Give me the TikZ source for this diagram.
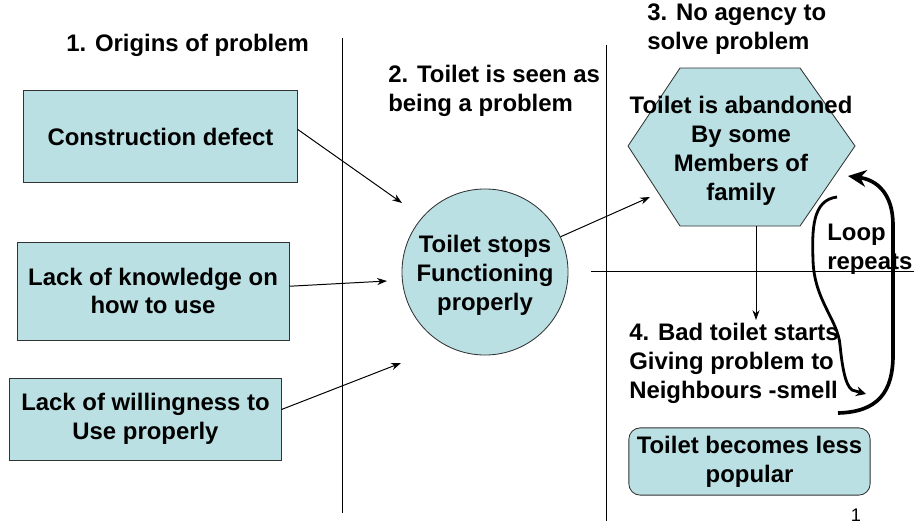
\documentclass[tikz,border=0pt]{standalone}
\usepackage{fontspec}
\setmainfont{Liberation Sans}
\usetikzlibrary{arrows.meta}
\definecolor{slidefill}{RGB}{187,224,227}

\begin{document}
\begin{tikzpicture}[x=0.025cm, y=-0.025cm,
                    every node/.style={font=\fontsize{17}{20.5}\selectfont\bfseries},
                    cause/.style={draw=black!80, fill=slidefill, line width=0.6pt, align=center, inner sep=0pt},
                    heading/.style={align=left, anchor=base west, inner sep=0pt},
                    link/.style={line width=0.7pt, -{Stealth[length=7pt, width=5pt]}},
                    loopline/.style={line width=2.6pt, -{Stealth[length=13pt, width=12pt]}}]
\useasboundingbox (0,0) rectangle (914,526);

% dividers
\draw[line width=0.7pt] (342,38) -- (342,513);
\draw[line width=0.7pt] (606,45) -- (606,521);
\draw[line width=0.7pt] (591,271) -- (914,271);

% causes
\node[cause, minimum width=6.83cm, minimum height=2.28cm] (defect) at (160.5,136.5) {Construction defect};
\node[cause, minimum width=6.8cm, minimum height=2.45cm] (knowledge) at (153,291) {Lack of knowledge on\\how to use};
\node[cause, minimum width=6.78cm, minimum height=2.05cm] (willing) at (145.5,419) {Lack of willingness to\\Use properly};

\node[circle, draw=black!80, fill=slidefill, line width=0.6pt, minimum size=4.15cm, inner sep=0pt] (stops) at (485,272) {};
\node[align=center, inner sep=0pt] (stopstext) at (485,275) {Toilet stops\\Functioning\\properly};

% hexagon
\filldraw[draw=black!80, fill=slidefill, line width=0.6pt] (680,68) -- (800,68) -- (855,146) -- (800,226) -- (680,226) -- (628,146) -- cycle;
\node[align=center, inner sep=0pt] (abandon) at (741,151) {Toilet is abandoned\\By some\\Members of\\family};

\node[cause, rounded corners=8pt, minimum width=6.03cm, minimum height=1.68cm] (popular) at (749.5,461.5) {Toilet becomes less\\popular};

% headings
\node[heading] (origins) at (66,51) {1. Origins of problem};
\node[heading] (seen) at (388,111) {2. Toilet is seen as\\being a problem};
\node[heading] (agency) at (647,49) {3. No agency to\\solve problem};
\node[heading] (neighbours) at (629,398) {4. Bad toilet starts\\Giving problem to\\Neighbours -smell};
\node[heading] (repeats) at (827,269) {Loop\\repeats};
\node[font=\fontsize{13}{15}\selectfont, anchor=base, inner sep=0pt] (page) at (856,521) {1};

% arrows
\coordinate (in1) at (402,203);
\coordinate (in2) at (387,281);
\coordinate (in3) at (401,363);
\coordinate (hexin) at (650,197);
\coordinate (hexbase) at (756,226);
\coordinate (badtop) at (756,320);
\draw[link] (defect.3) -- (in1);
\draw[link] (knowledge.2) -- (in2);
\draw[link] (willing.4) -- (in3);
\draw[link] (stops.25) -- (hexin);
\draw[link] (hexbase) -- (badtop);

% loop
\coordinate (loopstart) at (838,413);
\coordinate (loopend) at (848,176);
\coordinate (backstart) at (837,197);
\coordinate (backend) at (866,394);
\draw[loopline] (loopstart) .. controls (878,412) and (893,392) .. (893,355) -- (893,225) .. controls (893,195) and (878,180) .. (loopend);
\draw[line width=2pt, -{Stealth[length=7pt, width=7pt]}] (backstart) .. controls (812,200) and (812,230) .. (813,260) .. controls (814,300) and (838,320) .. (840,345) .. controls (842,365) and (845,385) .. (852,390) -- (backend);
\end{tikzpicture}
\end{document}
